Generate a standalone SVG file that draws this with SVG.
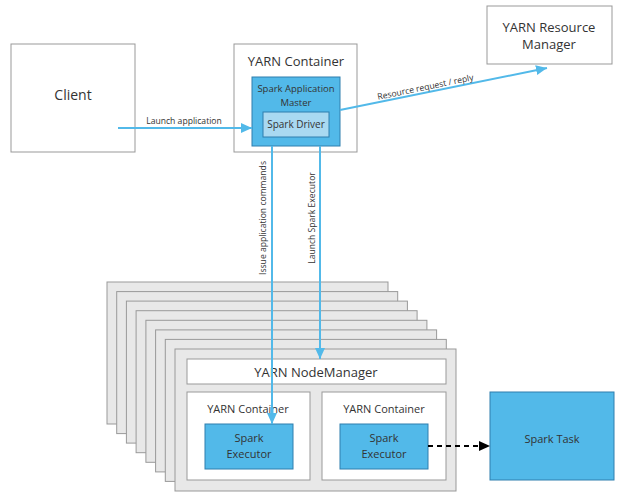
<svg xmlns="http://www.w3.org/2000/svg" width="628" height="501" viewBox="0 0 628 501">
<defs>
<style>
text{font-family:"Open Sans","Noto Sans",sans-serif;fill:#333;text-anchor:middle}
.box{fill:#fff;stroke:#999;stroke-width:1}
.stack{fill:#e8e8e8;stroke:#999;stroke-width:1}
.blue{fill:#52b9e9;stroke:#2e7fae;stroke-width:1}
.light{fill:#a9d9f1;stroke:#2e7fae;stroke-width:1}
.conn{stroke:#52b9e9;stroke-width:2;fill:none}
.big{font-size:14px}
.mid{font-size:13px}
.sm{font-size:11px}
.xs{font-size:8.6px}
</style>
<marker id="ab" markerUnits="userSpaceOnUse" markerWidth="12" markerHeight="12" viewBox="0 0 12 12" refX="11" refY="6" orient="auto">
<path d="M0,1 L11,6 L0,11 Z" fill="#52b9e9"/>
</marker>
<marker id="ak" markerUnits="userSpaceOnUse" markerWidth="12" markerHeight="12" viewBox="0 0 12 12" refX="11" refY="6" orient="auto">
<path d="M0,1 L11,6 L0,11 Z" fill="#000"/>
</marker>
</defs>
<rect width="628" height="501" fill="#fff"/>

<g id="client">
<rect class="box" x="11" y="44" width="124" height="108"/>
<text class="big" x="73" y="100">Client</text>
</g>

<g id="yarn-resource-manager">
<rect class="box" x="487" y="6" width="125" height="58"/>
<text class="mid" x="549" y="32">YARN Resource</text>
<text class="mid" x="549" y="49">Manager</text>
</g>

<g id="yarn-container-top">
<rect class="box" x="234" y="44" width="123" height="108"/>
<text class="mid" x="296" y="66">YARN Container</text>
</g>

<g id="spark-application-master">
<rect class="blue" x="252" y="77" width="88" height="69"/>
<text x="296" y="92" style="font-size:9.5px">Spark Application</text>
<text x="296" y="106" style="font-size:9.5px">Master</text>
</g>

<g id="spark-driver">
<rect class="light" x="263" y="112" width="66" height="25"/>
<text x="296" y="128" style="font-size:10px">Spark Driver</text>
</g>

<g id="node-stack">
<rect class="stack" x="107" y="282" width="281" height="142"/>
<rect class="stack" x="116.7" y="291.6" width="281" height="142"/>
<rect class="stack" x="126.4" y="301.1" width="281" height="142"/>
<rect class="stack" x="136.1" y="310.7" width="281" height="142"/>
<rect class="stack" x="145.9" y="320.3" width="281" height="142"/>
<rect class="stack" x="155.6" y="329.9" width="281" height="142"/>
<rect class="stack" x="165.3" y="339.4" width="281" height="142"/>
<rect class="stack" x="175" y="349" width="281" height="142"/>
</g>

<g id="yarn-nodemanager">
<rect class="box" x="187" y="359" width="259" height="25"/>
<text class="mid" x="316" y="377">YARN NodeManager</text>
</g>

<g id="yarn-container-left">
<rect class="box" x="187" y="392" width="123" height="88"/>
<text class="sm" x="248" y="413">YARN Container</text>
</g>

<g id="yarn-container-right">
<rect class="box" x="322" y="392" width="124" height="88"/>
<text class="sm" x="384" y="413">YARN Container</text>
</g>

<g id="spark-executor-left">
<rect class="blue" x="205" y="424" width="88" height="45"/>
<text class="sm" x="249" y="442">Spark</text>
<text class="sm" x="249" y="458">Executor</text>
</g>

<g id="spark-executor-right">
<rect class="blue" x="340" y="424" width="88" height="45"/>
<text class="sm" x="384" y="442">Spark</text>
<text class="sm" x="384" y="458">Executor</text>
</g>

<g id="spark-task">
<rect class="blue" x="490" y="392" width="124" height="88"/>
<text class="sm" x="552" y="443">Spark Task</text>
</g>

<g id="connectors">
<line class="conn" x1="118" y1="128" x2="252" y2="128" marker-end="url(#ab)"/>
<text class="xs" x="184" y="124">Launch application</text>
<line class="conn" x1="340" y1="110" x2="547" y2="68" marker-end="url(#ab)"/>
<text class="xs" transform="translate(426,90) rotate(-11.5)">Resource request / reply</text>
<line class="conn" x1="272" y1="146" x2="272" y2="424" marker-end="url(#ab)"/>
<text class="xs" transform="translate(266,218) rotate(-90)">Issue application commands</text>
<line class="conn" x1="320" y1="146" x2="320" y2="359" marker-end="url(#ab)"/>
<text class="xs" transform="translate(315,218) rotate(-90)">Launch Spark Executor</text>
<line x1="428" y1="446" x2="490" y2="446" stroke="#000" stroke-width="2" stroke-dasharray="5,4" marker-end="url(#ak)"/>
</g>
</svg>
